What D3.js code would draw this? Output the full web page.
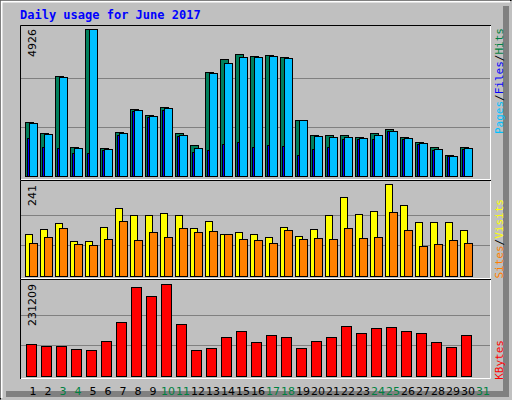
<!DOCTYPE html>
<html><head><meta charset="utf-8"><script src="https://cdn.jsdelivr.net/npm/d3@7"></script>
<style>body{margin:0;background:#fff}</style></head><body><svg id="c" width="512" height="400"></svg>
<script>
const days = d3.range(1,32);
const weekend = [3,4,10,11,17,18,24,25,31];
const hits = [1809,1441,3351,972,4926,938,1474,2245,2044,2312,1441,1039,3485,3921,4088,4021,4055,3988,1877,1374,1374,1374,1307,1441,1575,1307,1139,972,704,972];
const files = [1776,1407,3318,938,4910,905,1441,2212,2011,2279,1374,938,3452,3787,3988,3988,4021,3954,1877,1340,1307,1307,1273,1374,1508,1273,1106,905,670,938];
const pages = [1273,972,938,771,771,871,1374,2178,1977,2212,1340,804,871,1072,1139,972,1039,1005,704,905,972,1240,1240,1240,1508,1240,1072,871,670,905];
const visits = [110,123,139,92,92,128,178,160,160,165,160,126,144,110,115,110,102,128,105,123,160,207,162,170,241,186,141,141,141,120];
const sites = [86,102,126,84,81,97,144,94,115,102,126,115,118,110,97,94,86,120,97,100,97,126,100,102,168,120,79,84,94,86];
const kbytes = [80400,75400,75400,67900,65300,88000,135700,223700,201000,231209,130700,65300,70400,98000,113100,85400,103000,98000,70400,88000,98000,125700,108100,120600,123100,113100,108100,85400,72900,103000];
const maxHits=4926, maxVisits=241, maxKB=231209;

const svg=d3.select('#c');
svg.append('rect').attr('width',512).attr('height',400).attr('fill','#c0c0c0');
svg.append('path').attr('d','M0.5,399.5V0.5H511.5').attr('stroke','#000').attr('fill','none');
svg.append('path').attr('d','M1.5,398V1.5H510').attr('stroke','#fff').attr('stroke-width',2).attr('fill','none');
svg.append('path').attr('d','M506,6V394H6').attr('stroke','#808080').attr('stroke-width',6).attr('fill','none');
svg.append('text').attr('x',20).attr('y',19).text('Daily usage for June 2017')
  .attr('font-family','DejaVu Sans Mono').attr('font-weight','bold').attr('font-size',12).attr('fill','#0000ff');

const x=d3.scaleLinear().domain([1,31]).range([25,475]);
const panels=[{t:25,b:180,base:176,top:29},{t:180,b:279,base:276,top:184},{t:279,b:379,base:376,top:284}];
panels.forEach(p=>{
  svg.append('rect').attr('x',20).attr('y',p.t).attr('width',471).attr('height',p.b-p.t).attr('fill','#c0c0c0');
  svg.append('path').attr('d',`M20.5,${p.b}V${p.t+0.5}H491`).attr('stroke','#000').attr('fill','none');
  svg.append('path').attr('d',`M21,${p.b-0.5}H490.5V${p.t+1}`).attr('stroke','#fff').attr('fill','none');
});
const yH=d3.scaleLinear().domain([0,maxHits]).range([176,29]);
const yV=d3.scaleLinear().domain([0,maxVisits]).range([276,184]);
const yK=d3.scaleLinear().domain([0,maxKB]).range([376,284]);
function grid(y,max){[1/3,2/3].forEach(f=>{const yy=Math.round(y(max*f))+0.5;
  svg.append('line').attr('x1',21).attr('x2',490).attr('y1',yy).attr('y2',yy).attr('stroke','#808080');});}
grid(yH,maxHits);grid(yV,maxVisits);grid(yK,maxKB);
function bars(data,y,dx,w,color){
  svg.append('g').selectAll('rect').data(data).join('rect')
   .attr('x',(d,i)=>x(i+1)+dx+0.5).attr('y',d=>Math.round(y(d))+0.5).attr('width',w)
   .attr('height',d=>y(0)-Math.round(y(d))).attr('fill',color).attr('stroke','#000');
}
bars(hits,yH,0,8,'#00805c');
bars(pages,yH,2,8,'#0000ff');
bars(files,yH,4,8,'#00c0ff');
bars(visits,yV,0,7,'#ffff00');
bars(sites,yV,4,8,'#ff8000');
bars(kbytes,yK,1,10,'#ff0000');

svg.append('g').selectAll('text').data(days).join('text')
  .attr('x',d=>x(d)+8).attr('y',395).attr('text-anchor','middle')
  .attr('font-family','DejaVu Sans').attr('font-size',11)
  .attr('fill',d=>weekend.includes(d)?'#008040':'#000').text(d=>d);
function ylab(t,y){svg.append('text').attr('transform',`translate(36,${y}) rotate(-90)`).attr('text-anchor','end')
  .attr('font-family','DejaVu Sans').attr('font-size',11).attr('fill','#000').text(t);}
ylab(String(maxHits),29);ylab(String(maxVisits),185);ylab(String(maxKB),284);
function rlab(parts,y){const t=svg.append('text').attr('transform',`translate(503,${y}) rotate(-90)`).attr('text-anchor','end')
  .attr('font-family','DejaVu Sans Mono').attr('font-size',11);
  parts.forEach(([s,c])=>t.append('tspan').attr('fill',c).text(s));}
rlab([['Pages','#00c0ff'],['/','#000'],['Files','#0000ff'],['/','#000'],['Hits','#008040']],28);
rlab([['Sites','#ff8000'],['/','#000'],['Visits','#ffff00']],199);
rlab([['KBytes','#ff0000']],340);
</script></body></html>
